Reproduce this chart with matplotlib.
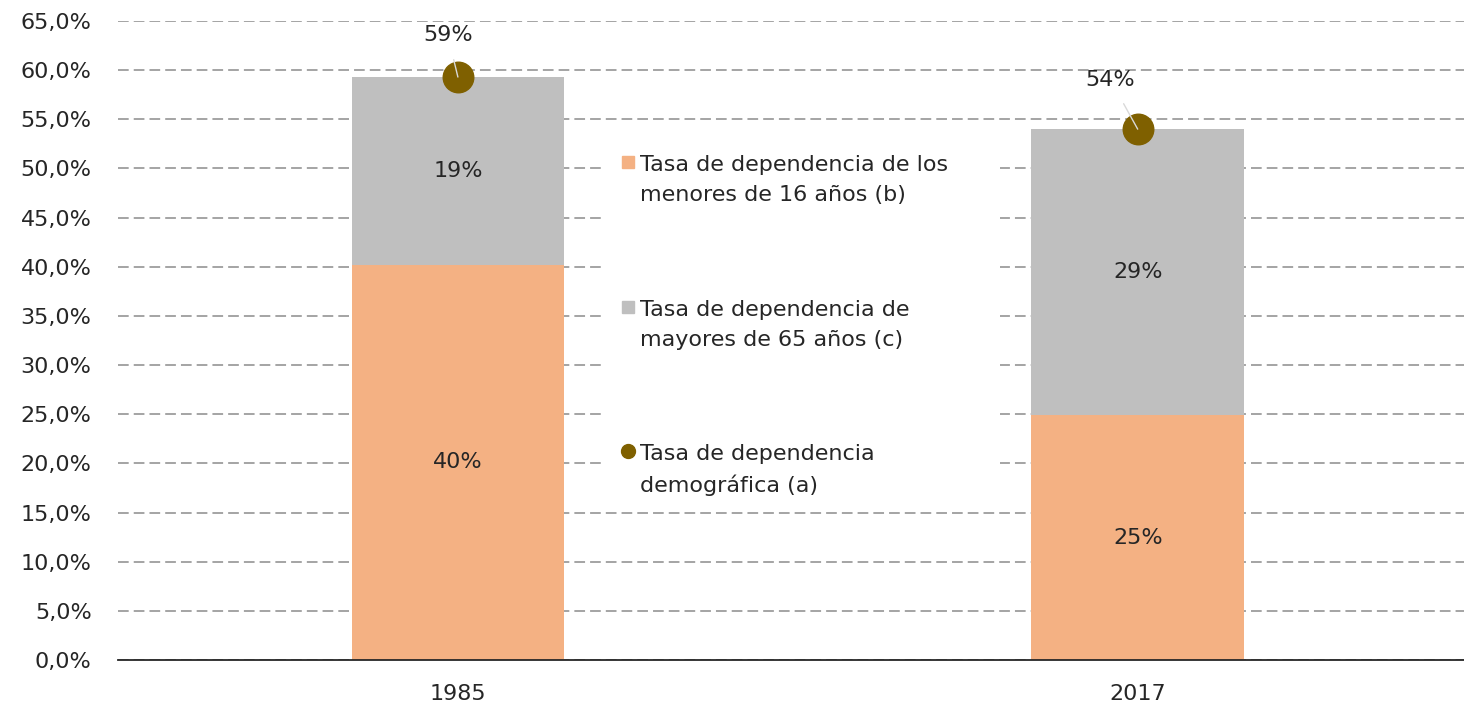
import matplotlib.pyplot as plt
from matplotlib.ticker import FuncFormatter
from matplotlib.patches import Rectangle

plt.rcParams['font.family'] = ['DejaVu Sans']

# Data
years = ["1985", "2017"]
menores_16 = [40.2, 24.9]
mayores_65 = [19.1, 29.1]
total = [59.3, 54.0]
lbl_menores = ["40%", "25%"]
lbl_mayores = ["19%", "29%"]
lbl_total = ["59%", "54%"]
legend_labels = [
    "Tasa de dependencia de los\nmenores de 16 años (b)",
    "Tasa de dependencia de\nmayores de 65 años (c)",
    "Tasa de dependencia\ndemográfica (a)",
]

c_menores = "#F4B183"
c_mayores = "#BFBFBF"
c_total = "#7F6000"
c_text = "#262626"
fs = 16

W, H = 1464, 707
L, R, B, T = 118, 1464, 660, 21
fig = plt.figure(figsize=(W / 100, H / 100), dpi=100)
ax = fig.add_axes([L / W, (H - B) / H, (R - L) / W, (B - T) / H])

x = list(range(len(years)))
w = 0.313
ax.bar(x, menores_16, width=w, color=c_menores, zorder=2)
ax.bar(x, mayores_65, width=w, bottom=menores_16, color=c_mayores, zorder=2)
ax.plot(x, total, linestyle="none", marker="o", markersize=22,
        color=c_total, zorder=3)

for i in x:
    ax.text(i, menores_16[i] / 2, lbl_menores[i], ha="center", va="center",
            fontsize=fs, color=c_text, zorder=4)
    ax.text(i, menores_16[i] + mayores_65[i] / 2, lbl_mayores[i], ha="center",
            va="center", fontsize=fs, color=c_text, zorder=4)

# total labels with leader lines
offsets = [(-0.015, 4.3), (-0.04, 5.0)]
for i in x:
    dx, dy = offsets[i]
    ax.annotate(lbl_total[i], xy=(i, total[i]), xytext=(i + dx, total[i] + dy),
                ha="center", va="center", fontsize=fs, color=c_text,
                arrowprops=dict(arrowstyle="-", color="#D9D9D9", lw=1,
                                shrinkA=9, shrinkB=0),
                zorder=5)

ax.set_xlim(-0.5, 1.48)
ax.set_ylim(0, 65)
ax.set_yticks(range(0, 66, 5))
ax.yaxis.set_major_formatter(FuncFormatter(lambda v, p: f"{v:.1f}%".replace(".", ",")))
ax.set_xticks(x)
ax.set_xticklabels(years)
ax.tick_params(axis="both", length=0, labelsize=fs, labelcolor=c_text)
ax.tick_params(axis="x", pad=17)
ax.tick_params(axis="y", pad=19)

ax.grid(axis="y", linestyle=(0, (7, 3.3)), color="#8C8C8C", linewidth=1.1, zorder=0)
ax.set_axisbelow(True)
for s in ["top", "right", "left"]:
    ax.spines[s].set_visible(False)
ax.spines["bottom"].set_color(c_text)
ax.spines["bottom"].set_linewidth(1.3)


# legend drawn by hand (marker aligned with first text line)
def fx(px):
    return (px - L) / (R - L)


def fy(py):
    return (B - py) / (B - T)


ax.add_patch(Rectangle((fx(603), fy(502)), fx(1000) - fx(603), fy(142) - fy(502),
                       transform=ax.transAxes, facecolor="white",
                       edgecolor="none", zorder=1))
leg_y = [165, 310, 454]
leg_marker = ["s", "s", "o"]
leg_color = [c_menores, c_mayores, c_total]
for k in range(3):
    ax.plot([fx(628)], [fy(leg_y[k] - 3)], transform=ax.transAxes,
            marker=leg_marker[k], markersize=10 if k == 2 else 9,
            color=leg_color[k], linestyle="none", zorder=6, clip_on=False)
    ax.text(fx(640), fy(leg_y[k] - 10), legend_labels[k], transform=ax.transAxes,
            ha="left", va="top", fontsize=fs, color=c_text, linespacing=1.6,
            zorder=6)

fig.savefig("out.png", dpi=100)
